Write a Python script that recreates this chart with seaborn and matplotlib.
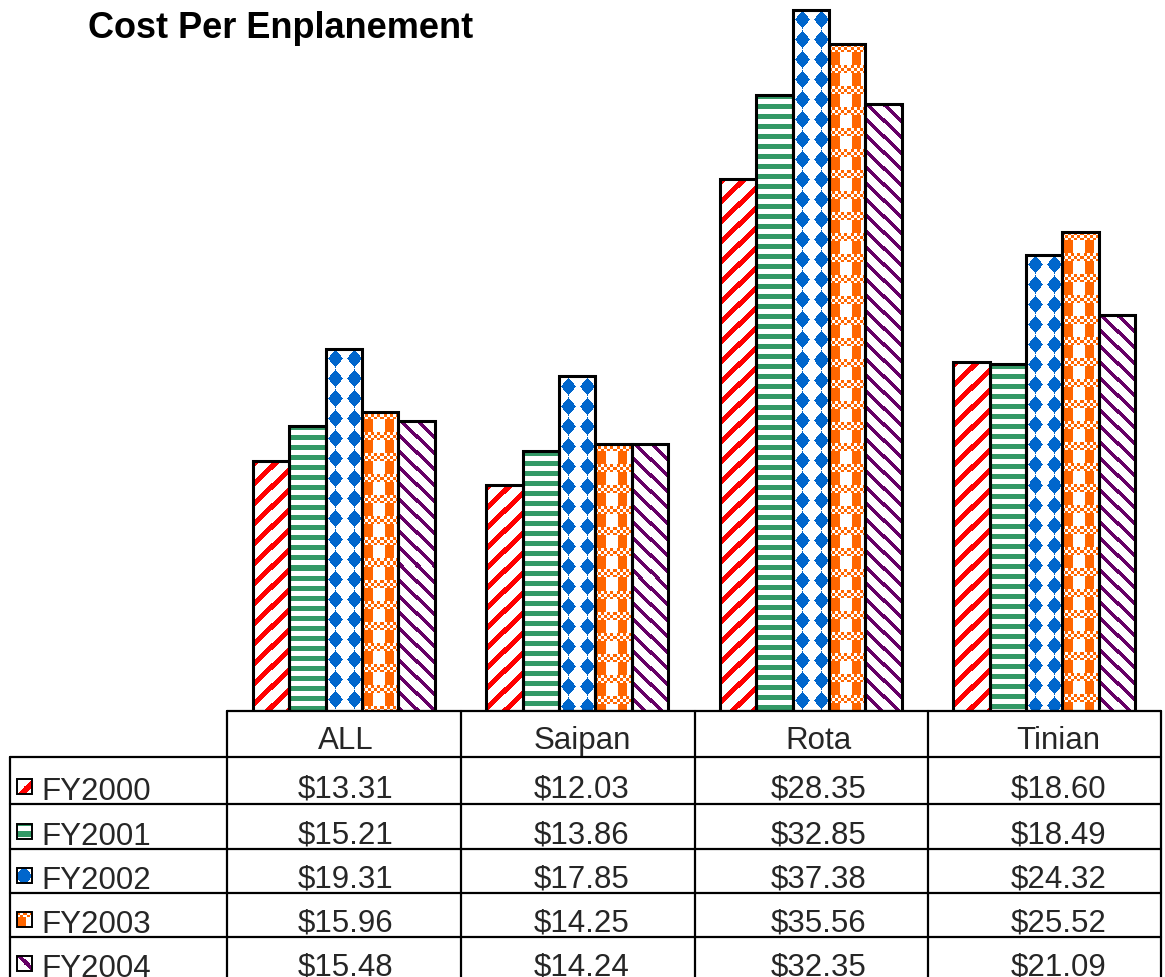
import numpy as np
import pandas as pd
import matplotlib
matplotlib.use("Agg")
import matplotlib.pyplot as plt
import seaborn as sns

# ---- data -------------------------------------------------------------
airports = ["ALL", "Saipan", "Rota", "Tinian"]
years = ["FY2000", "FY2001", "FY2002", "FY2003", "FY2004"]
fy2000 = [13.31, 12.03, 28.35, 18.60]
fy2001 = [15.21, 13.86, 32.85, 18.49]
fy2002 = [19.31, 17.85, 37.38, 24.32]
fy2003 = [15.96, 14.25, 35.56, 25.52]
fy2004 = [15.48, 14.24, 32.35, 21.09]
series = [fy2000, fy2001, fy2002, fy2003, fy2004]
colors = ["#ff0000", "#339966", "#0066cc", "#ff6600", "#660066"]

df = pd.DataFrame(
    [(a, y, v) for y, vals in zip(years, series) for a, v in zip(airports, vals)],
    columns=["airport", "year", "cost"],
)

# ---- figure -----------------------------------------------------------
W, H = 1165, 977
sns.set_theme(style="white")
plt.rcParams["font.family"] = ["Liberation Sans", "DejaVu Sans"]

fig = plt.figure(figsize=(W / 100, H / 100), dpi=100)
fig.patch.set_facecolor("white")

AX_L, AX_R, AX_B = 227, 1161, 711
ax = fig.add_axes([AX_L / W, (H - AX_B) / H, (AX_R - AX_L) / W, AX_B / H])
sns.barplot(data=df, x="airport", y="cost", hue="year",
            order=airports, hue_order=years, width=0.778, ax=ax,
            legend=False, saturation=1, palette=["white"] * 5)
XLIM = (-0.5, 3.5)
YLIM = (0, 37.91)
ax.set_xlim(*XLIM)
ax.set_ylim(*YLIM)
ax.axis("off")


def texture(kind, h, w, rgb, ox=0, oy=0):
    """Pixel fill pattern for one series."""
    r, c = np.mgrid[0:h, 0:w]
    r = r + oy
    c = c + ox
    if kind == 0:      # wide upward diagonal
        mask = ((c + r) % 20) < 7
    elif kind == 1:    # horizontal stripes
        mask = (r % 10) < 5
    elif kind == 2:    # diamonds
        dx = (c % 18) - 9
        dy = (r % 20) - 10
        mask = np.abs(dx) / 7.5 + np.abs(dy) / 9.0 <= 1
    elif kind == 3:    # gingham / checker
        band = (r % 21) < 8
        chk = ((c // 3 + r // 3) % 2) == 0
        vs = ((c % 20) >= 2) & ((c % 20) < 11)
        mask = np.where(band, chk, vs)
    else:              # downward diagonal
        mask = ((c - r) % 16) < 5
    img = np.ones((h, w, 3))
    img[mask] = rgb
    return img


for i, cont in enumerate(ax.containers):
    rgb = matplotlib.colors.to_rgb(colors[i])
    for bar in cont:
        x0, x1 = bar.get_x(), bar.get_x() + bar.get_width()
        y0, y1 = 0, bar.get_height()
        (px0, py0), (px1, py1) = ax.transData.transform([(x0, y0), (x1, y1)])
        w = max(int(round(px1 - px0)), 1)
        h = max(int(round(py1 - py0)), 1)
        im = ax.imshow(texture(i, h, w, rgb), extent=(x0, x1, y0, y1),
                       aspect="auto", interpolation="nearest", zorder=1)
        im.set_clip_path(bar)
        bar.set_facecolor("none")
        bar.set_edgecolor("black")
        bar.set_linewidth(2.2)
        bar.set_zorder(3)
ax.set_xlim(*XLIM)
ax.set_ylim(*YLIM)

# ---- title ------------------------------------------------------------
fig.text(88 / W, 1 - 38 / H, "Cost Per Enplanement", fontsize=26,
         fontweight="bold", va="baseline", ha="left", color="black")

# ---- data table below the chart ----------------------------------------
ov = fig.add_axes([0, 0, 1, 1], zorder=5)
ov.set_xlim(0, W)
ov.set_ylim(H, 0)
ov.axis("off")
ov.patch.set_alpha(0)

lw = 1.6
col_edges = [227, 461, 695, 928, 1161]
row_edges = [757, 804, 849, 893, 937, 981]
ov.plot([col_edges[0], col_edges[-1]], [AX_B, AX_B], color="black", lw=lw)
for x in col_edges:
    ov.plot([x, x], [AX_B, H + 5], color="black", lw=lw)
ov.plot([10, 10], [row_edges[0], H + 5], color="black", lw=lw)
for y in row_edges[:-1]:
    ov.plot([10, col_edges[-1]], [y, y], color="black", lw=lw)

FS = 22.5
text_shift = [2, 4, 7, 14]
centers = [(a + b) / 2 + s
           for a, b, s in zip(col_edges[:-1], col_edges[1:], text_shift)]
for cx, name in zip(centers, airports):
    ov.text(cx, 749, name, fontsize=FS, ha="center", va="baseline")

for i, (yr, vals) in enumerate(zip(years, series)):
    base = row_edges[i + 1] - 6
    ov.text(41, base + 2, yr, fontsize=FS, ha="left", va="baseline")
    for cx, v in zip(centers, vals):
        ov.text(cx, base, f"${v:.2f}", fontsize=FS, ha="center", va="baseline")
    # legend key
    rgb = matplotlib.colors.to_rgb(colors[i])
    kb = base - 4
    ov.imshow(texture(i, 14, 14, rgb, ox=3, oy=3), extent=(17, 32, kb, kb - 15),
              interpolation="nearest", aspect="auto", zorder=2)
    ov.add_patch(plt.Rectangle((17, kb - 15), 15, 15, fill=False,
                               edgecolor="black", lw=1.4, zorder=3))
ov.set_xlim(0, W)
ov.set_ylim(H, 0)

fig.savefig("out.png", dpi=100, facecolor="white")
